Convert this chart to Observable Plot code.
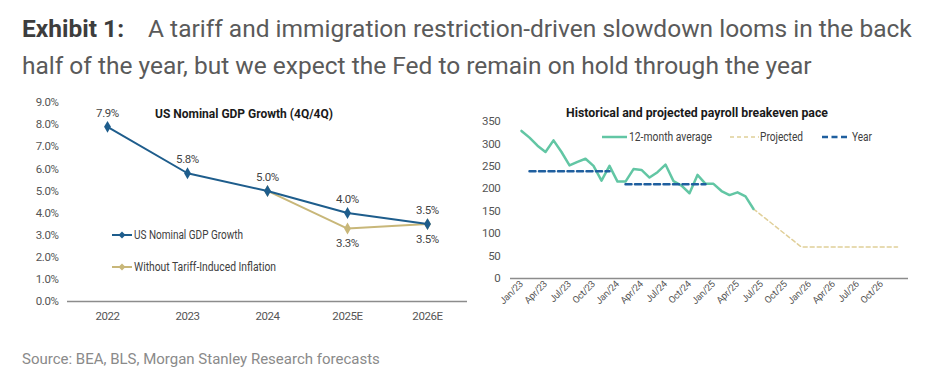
<!DOCTYPE html>
<html><head><meta charset="utf-8">
<script src="https://cdn.jsdelivr.net/npm/d3@7"></script>
<script src="https://cdn.jsdelivr.net/npm/@observablehq/plot@0.6"></script>
<style>
body{margin:0;background:#fff;width:933px;height:387px;position:relative;overflow:hidden;font-family:Roboto,"Liberation Sans",sans-serif}
.abs{position:absolute}
</style></head>
<body>
<div class="abs" style="left:22px;top:10px;font-size:24.5px;line-height:37px;color:#5a5a5a;white-space:nowrap"><b style="color:#3d3d3d;margin-right:24px">Exhibit 1:</b>A tariff and immigration restriction-driven slowdown looms in the back<br>half of the year, but we expect the Fed to remain on hold through the year</div>
<div id="left" class="abs" style="left:0;top:90px"></div>
<div id="right" class="abs" style="left:465px;top:90px"></div>
<svg class="abs" style="left:0;top:0" width="933" height="387" font-family="Roboto,sans-serif">
  <text x="244" y="113" dy="0.35em" text-anchor="middle" font-weight="bold" font-size="13" fill="#1a1a1a" textLength="178" lengthAdjust="spacingAndGlyphs">US Nominal GDP Growth (4Q/4Q)</text>
  <text x="697" y="112" dy="0.35em" text-anchor="middle" font-weight="bold" font-size="13" fill="#1a1a1a" textLength="262" lengthAdjust="spacingAndGlyphs">Historical and projected payroll breakeven pace</text>
  <g font-size="12" fill="#404040">
    <line x1="112" x2="132" y1="235" y2="235" stroke="#1e5d8c" stroke-width="2"/>
    <path d="M122,231.5L125.5,235L122,238.5L118.5,235Z" fill="#1e5d8c"/>
    <text x="134" y="235" dy="0.35em" textLength="109" lengthAdjust="spacingAndGlyphs">US Nominal GDP Growth</text>
    <line x1="112" x2="132" y1="267" y2="267" stroke="#c8b779" stroke-width="2"/>
    <path d="M122,263.5L125.5,267L122,270.5L118.5,267Z" fill="#c8b779"/>
    <text x="134" y="267" dy="0.35em" textLength="142" lengthAdjust="spacingAndGlyphs">Without Tariff-Induced Inflation</text>
    <line x1="602" x2="627" y1="137" y2="137" stroke="#62c6a4" stroke-width="2.5"/>
    <text x="629" y="137" dy="0.35em" textLength="83" lengthAdjust="spacingAndGlyphs">12-month average</text>
    <line x1="730" x2="759" y1="137" y2="137" stroke="#e0cf98" stroke-width="1.5" stroke-dasharray="4,3"/>
    <text x="760" y="137" dy="0.35em" textLength="43" lengthAdjust="spacingAndGlyphs">Projected</text>
    <line x1="822" x2="847" y1="137" y2="137" stroke="#1f5f9f" stroke-width="2.5" stroke-dasharray="6,3.5"/>
    <text x="852" y="137" dy="0.35em" textLength="20" lengthAdjust="spacingAndGlyphs">Year</text>
  </g>
</svg>
<div class="abs" style="left:22px;top:349px;font-size:15px;line-height:20px;color:#8a8a8a">Source: BEA, BLS, Morgan Stanley Research forecasts</div>
<script>
// ---- Left chart data ----
const years = ["2022", "2023", "2024", "2025E", "2026E"];
const gdpGrowth = [7.9, 5.8, 5.0, 4.0, 3.5];
const withoutTariff = [null, null, 5.0, 3.3, 3.5];
const yTicksLeft = [0, 1, 2, 3, 4, 5, 6, 7, 8, 9];

// ---- Right chart data ----
const monthNames = ["Jan","Feb","Mar","Apr","May","Jun","Jul","Aug","Sep","Oct","Nov","Dec"];
const yearSuffixes = ["23","24","25","26"];
const months = yearSuffixes.flatMap(y => monthNames.map(m => m + "/" + y));
const tickLabels = ["Jan/23","Apr/23","Jul/23","Oct/23","Jan/24","Apr/24","Jul/24","Oct/24","Jan/25","Apr/25","Jul/25","Oct/25","Jan/26","Apr/26","Jul/26","Oct/26"];
// 12-month average, Jan/23 .. Jun/25
const avg12 = [329, 314, 296, 282, 308, 282, 252, 260, 267, 251, 218, 251,
               216, 216, 244, 242, 225, 237, 254, 217, 207, 190, 231, 211,
               211, 195, 186, 192, 183, 155];
// Projected breakpoints
const projMonths = ["Jun/25", "Dec/25", "Dec/26"];
const projValues = [155, 70, 70];
// Yearly averages
const year2023Months = ["Feb/23", "Dec/23"];
const year2023Value = 239;
const year2024Months = ["Feb/24", "Dec/24"];
const year2024Value = 210;
const yTicksRight = [0, 50, 100, 150, 200, 250, 300, 350];

const FONT = 'Roboto,sans-serif';

// Left chart
const gdpData = years.map((y, i) => ({year: y, v: gdpGrowth[i]}));
const tarData = years.map((y, i) => ({year: y, v: withoutTariff[i]})).filter(d => d.v != null);
const tarLabels = tarData.filter(d => d.year !== "2024");
const blue = "#1e5d8c", tan = "#c8b779";

const left = Plot.plot({
  width: 470, height: 240,
  marginLeft: 67, marginRight: 3, marginTop: 12, marginBottom: 29,
  style: {fontFamily: FONT, fontSize: "11.5px", color: "#555", background: "transparent", letterSpacing: "-0.4px"},
  x: {type: "point", domain: years, padding: 0.5, label: null},
  y: {domain: [0, 9], label: null},
  marks: [
    Plot.axisY({ticks: yTicksLeft, tickSize: 0, tickPadding: 9, tickFormat: d => d.toFixed(1) + "%", label: null, fill: "#555"}),
    Plot.axisX({tickSize: 0, tickPadding: 10, label: null, fill: "#555"}),
    Plot.ruleY([0], {stroke: "#8c8c8c", strokeWidth: 1.3}),
    Plot.line(tarData, {x: "year", y: "v", stroke: tan, strokeWidth: 2}),
    Plot.dot(tarData, {x: "year", y: "v", symbol: "diamond", fill: tan, r: 3.6}),
    Plot.line(gdpData, {x: "year", y: "v", stroke: blue, strokeWidth: 2}),
    Plot.dot(gdpData, {x: "year", y: "v", symbol: "diamond", fill: blue, r: 3.6}),
    Plot.text(gdpData, {x: "year", y: "v", text: d => d.v.toFixed(1) + "%", dy: -14, fill: "#444", fontSize: 11.5}),
    Plot.text(tarLabels, {x: "year", y: "v", text: d => d.v.toFixed(1) + "%", dy: 15, fill: "#444", fontSize: 11.5})
  ]
});
document.getElementById("left").append(left);

// Right chart
const avgData = avg12.map((v, i) => ({m: months[i], v}));
const projData = projMonths.map((m, i) => ({m, v: projValues[i]}));
const y23 = year2023Months.map(m => ({m, v: year2023Value}));
const y24 = year2024Months.map(m => ({m, v: year2024Value}));

const right = Plot.plot({
  width: 468, height: 250,
  marginLeft: 45, marginRight: 25, marginTop: 31, marginBottom: 62,
  style: {fontFamily: FONT, fontSize: "11.5px", color: "#555", background: "transparent", letterSpacing: "-0.3px"},
  x: {type: "point", domain: months, padding: 0.5, label: null},
  y: {domain: [0, 350], label: null},
  marks: [
    Plot.axisY({ticks: yTicksRight, tickSize: 0, tickPadding: 10, label: null, fill: "#555"}),
    Plot.axisX({ticks: tickLabels, tickSize: 0, tickPadding: 4, tickRotate: -45, label: null, fontSize: 9.5, fill: "#555"}),
    Plot.ruleY([0], {stroke: "#8c8c8c", strokeWidth: 1.3}),
    Plot.line(projData, {x: "m", y: "v", stroke: "#e0cf98", strokeWidth: 1.5, strokeDasharray: "4,3"}),
    Plot.line(avgData, {x: "m", y: "v", stroke: "#62c6a4", strokeWidth: 2.5}),
    Plot.line(y23, {x: "m", y: "v", stroke: "#1f5f9f", strokeWidth: 2.5, strokeDasharray: "6,3.5"}),
    Plot.line(y24, {x: "m", y: "v", stroke: "#1f5f9f", strokeWidth: 2.5, strokeDasharray: "6,3.5"})
  ]
});
document.getElementById("right").append(right);
</script>
</body></html>
